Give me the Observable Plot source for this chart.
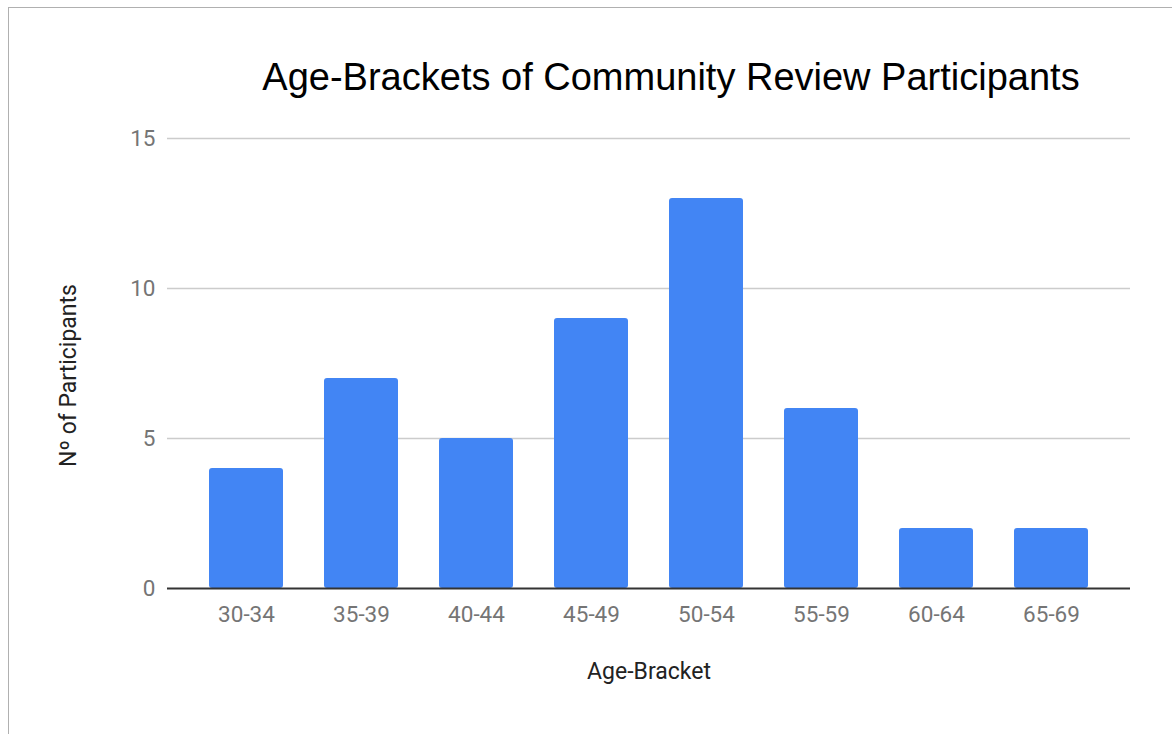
<!DOCTYPE html>
<html>
<head>
<meta charset="utf-8">
<script src="https://cdn.jsdelivr.net/npm/d3@7"></script>
<script src="https://cdn.jsdelivr.net/npm/@observablehq/plot@0.6"></script>
<style>
  html, body { margin: 0; padding: 0; background: #fff; }
  #wrap { position: relative; width: 1172px; height: 734px; overflow: hidden; }
  #border { position: absolute; left: 8px; top: 7px; width: 1200px; height: 800px; border-left: 1.5px solid #b0b0b0; border-top: 1.5px solid #b0b0b0; box-sizing: border-box; }
  #title { position: absolute; left: 0; width: 1342px; top: 53px; text-align: center; font-family: "Liberation Sans", Arial, sans-serif; font-size: 38px; color: #000; margin: 0; font-weight: normal; line-height: 48px; }
  #chart { position: absolute; left: 0; top: 0; }
</style>
</head>
<body>
<div id="wrap">
  <div id="border"></div>
  <div id="chart"></div>
  <h1 id="title">Age-Brackets of Community Review Participants</h1>
</div>
<script>
const brackets = ["30-34", "35-39", "40-44", "45-49", "50-54", "55-59", "60-64", "65-69"];
const participants = [4, 7, 5, 9, 13, 6, 2, 2];
const yTicks = [0, 5, 10, 15];

const data = brackets.map((b, i) => ({bracket: b, count: participants[i]}));

const chart = Plot.plot({
  width: 1172,
  height: 734,
  marginLeft: 167,
  marginRight: 42,
  marginTop: 138,
  marginBottom: 146,
  style: {fontFamily: "Roboto, sans-serif", fontSize: "22.5px", color: "#757575", background: "transparent"},
  x: {domain: brackets, padding: 0.355, label: null, tickSize: 0, tickPadding: 18},
  y: {domain: [0, 15], ticks: yTicks, label: null, tickSize: 0, tickPadding: 12},
  marks: [
    Plot.ruleY(yTicks.filter(d => d > 0), {stroke: "#cccccc", strokeWidth: 1.3}),
    Plot.barY(data, {x: "bracket", y: "count", fill: "#4285f4", rx: 3}),
    Plot.ruleY([0], {stroke: "#333333", strokeWidth: 2}),
    Plot.axisX({tickSize: 0, tickPadding: 18, fontSize: 22.5, fill: "#757575", label: null}),
    Plot.axisY({ticks: yTicks, tickSize: 0, tickPadding: 12, fontSize: 22.5, fill: "#757575", label: null}),
    Plot.text(["Age-Bracket"], {frameAnchor: "bottom", dy: 90, fontSize: 23, fill: "#222222", fontFamily: "Roboto, sans-serif"}),
    Plot.text(["Nº of Participants"], {frameAnchor: "left", textAnchor: "middle", dx: -99, dy: 12, rotate: -90, fontSize: 23, fill: "#222222", fontFamily: "Roboto, sans-serif"})
  ]
});
document.getElementById("chart").appendChild(chart);
</script>
</body>
</html>
